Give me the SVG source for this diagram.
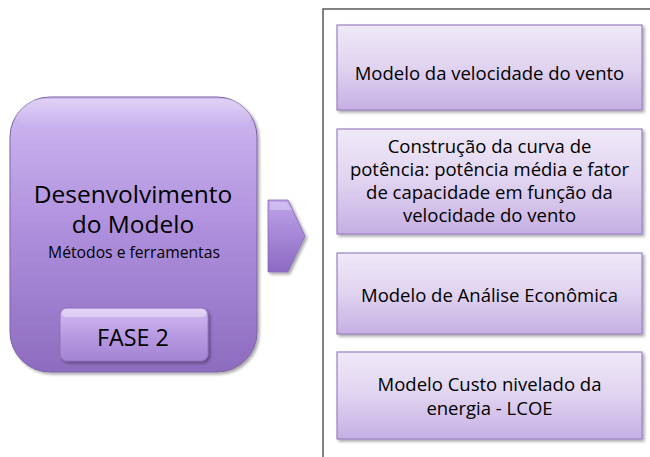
<svg xmlns="http://www.w3.org/2000/svg" width="650" height="457" viewBox="0 0 650 457">
<defs>
<linearGradient id="gBig" x1="0" y1="0" x2="0" y2="1">
<stop offset="0" stop-color="#d0baf2"/>
<stop offset="0.5" stop-color="#ad8edc"/>
<stop offset="1" stop-color="#8d6cbf"/>
</linearGradient>
<linearGradient id="gFase" x1="0" y1="0" x2="0" y2="1">
<stop offset="0" stop-color="#d4bdf2"/>
<stop offset="0.5" stop-color="#b89be3"/>
<stop offset="1" stop-color="#a283d2"/>
</linearGradient>
<linearGradient id="gChev" x1="0" y1="0" x2="0" y2="1">
<stop offset="0" stop-color="#bea3ea"/>
<stop offset="1" stop-color="#8c6ac2"/>
</linearGradient>
<linearGradient id="gBox" x1="0" y1="0" x2="0" y2="1">
<stop offset="0" stop-color="#efe9f7"/>
<stop offset="0.5" stop-color="#e0d3f0"/>
<stop offset="1" stop-color="#c6afe4"/>
</linearGradient>
<linearGradient id="gHi" x1="0" y1="0" x2="0" y2="1">
<stop offset="0" stop-color="#ffffff" stop-opacity="0.55"/>
<stop offset="1" stop-color="#ffffff" stop-opacity="0"/>
</linearGradient>
<filter id="sh" x="-10%" y="-10%" width="130%" height="130%">
<feGaussianBlur in="SourceAlpha" stdDeviation="1.5"/>
<feOffset dx="1.5" dy="2" result="b"/>
<feComponentTransfer><feFuncA type="linear" slope="0.35"/></feComponentTransfer>
<feMerge><feMergeNode/><feMergeNode in="SourceGraphic"/></feMerge>
</filter>
</defs>
<style>
.t{font-family:"Open Sans","Liberation Sans",sans-serif;fill:#000;text-anchor:middle}
.box{fill:url(#gBox);stroke:#9a80c4;stroke-width:1.2}
.r{font-size:18.5px}
</style>
<g id="frame">
<path d="M323 457 V9 H650" fill="none" stroke="#5a5a5a" stroke-width="1.5"/>
</g>
<g id="fase2-main">
<rect x="10" y="97" width="247" height="275" rx="40" fill="url(#gBig)" stroke="#7d62a8" stroke-width="1" filter="url(#sh)"/>
<rect x="14" y="99" width="239" height="30" rx="30" fill="url(#gHi)" opacity="0.6"/>
<text class="t" x="133" y="203" font-size="24.5">Desenvolvimento</text>
<text class="t" x="133" y="233" font-size="24.5">do Modelo</text>
<text class="t" x="134" y="258" font-size="15.7">Métodos e ferramentas</text>
</g>
<g id="fase2-label">
<rect x="60" y="308" width="148" height="53" rx="7" fill="url(#gFase)" stroke="#8a6cb8" stroke-width="0.8" filter="url(#sh)"/>
<rect x="62" y="309" width="144" height="8" rx="4" fill="#ffffff" opacity="0.35"/>
<text class="t" x="133" y="346" font-size="23.3">FASE 2</text>
</g>
<g id="connectors">
<path d="M268 200 H288 L305 236 L288 272 H268 Z" fill="url(#gChev)" stroke="#8a6bbb" stroke-width="0.8" filter="url(#sh)"/>
<path d="M270 202 H287 L292 210 H270 Z" fill="#ffffff" opacity="0.3"/>
</g>
<g id="box1">
<rect class="box" x="337" y="25" width="305" height="85" filter="url(#sh)"/>
<text class="t r" x="489.5" y="80">Modelo da velocidade do vento</text>
</g>
<g id="box2">
<rect class="box" x="337" y="129" width="305" height="105" filter="url(#sh)"/>
<text class="t r" x="489.5" y="153">Construção da curva de</text>
<text class="t r" x="489.5" y="176">potência: potência média e fator</text>
<text class="t r" x="489.5" y="199">de capacidade em função da</text>
<text class="t r" x="489.5" y="222">velocidade do vento</text>
</g>
<g id="box3">
<rect class="box" x="337" y="253" width="305" height="81" filter="url(#sh)"/>
<text class="t r" x="489.5" y="302">Modelo de Análise Econômica</text>
</g>
<g id="box4">
<rect class="box" x="337" y="352" width="305" height="87" filter="url(#sh)"/>
<text class="t r" x="489.5" y="391">Modelo Custo nivelado da</text>
<text class="t r" x="489.5" y="415">energia - LCOE</text>
</g>
</svg>
